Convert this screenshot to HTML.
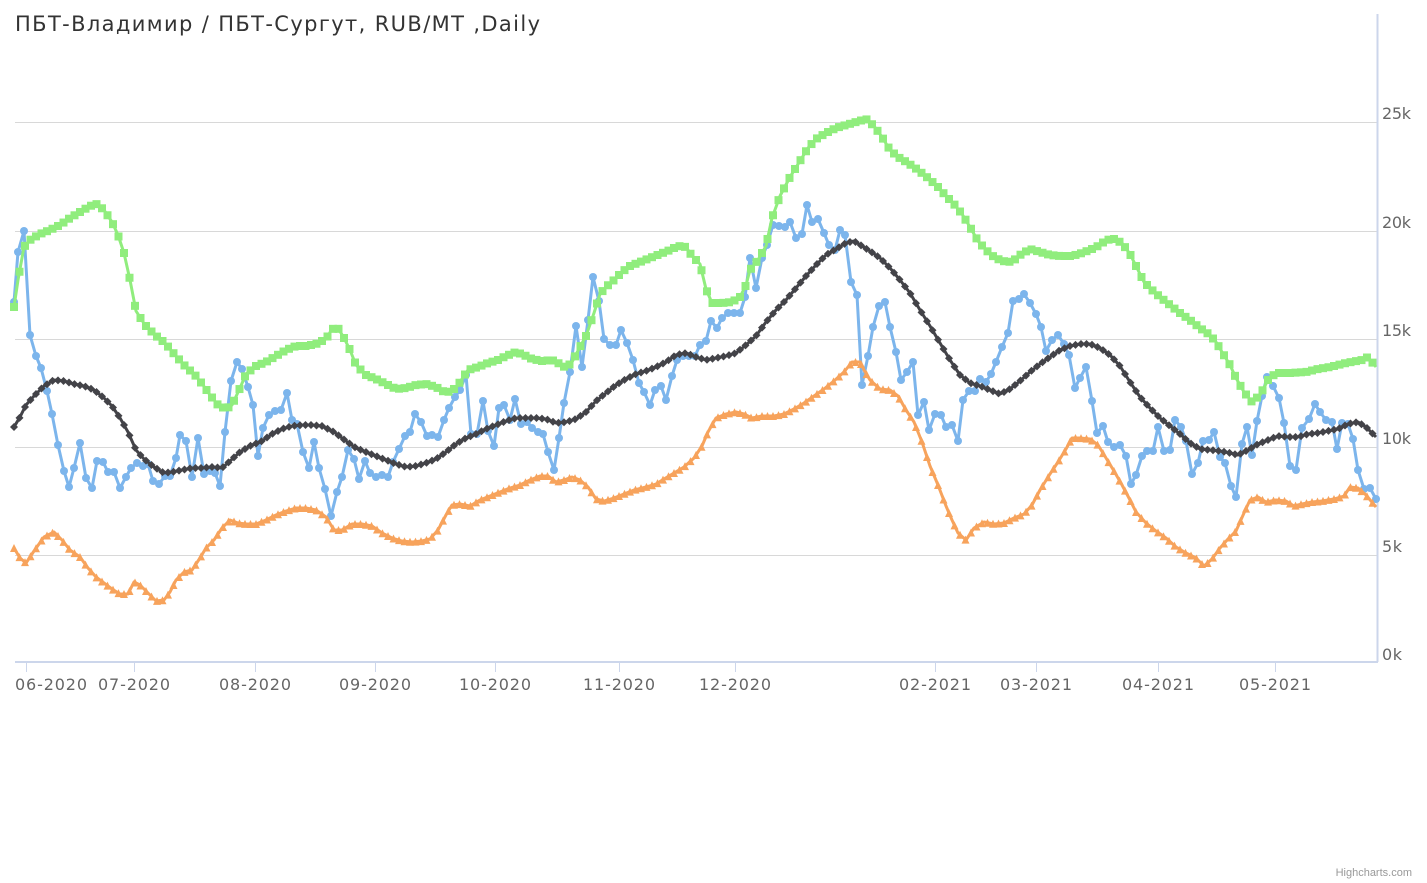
<!DOCTYPE html>
<html><head><meta charset="utf-8"><style>
html,body{margin:0;padding:0;background:#fff;width:1427px;height:883px;overflow:hidden;font-family:"DejaVu Sans","Liberation Sans",sans-serif}
svg{display:block}
</style></head><body>
<svg id="s" width="1427" height="883" xmlns="http://www.w3.org/2000/svg" font-family="DejaVu Sans, Liberation Sans, sans-serif">
<rect width="1427" height="883" fill="#fff"/>
<g stroke="#d8d8d8" stroke-width="1">
<line x1="15" x2="1377" y1="122.5" y2="122.5"/>
<line x1="15" x2="1377" y1="231.5" y2="231.5"/>
<line x1="15" x2="1377" y1="339.5" y2="339.5"/>
<line x1="15" x2="1377" y1="447.5" y2="447.5"/>
<line x1="15" x2="1377" y1="555.5" y2="555.5"/>
</g>
<line x1="15" x2="1378" y1="662" y2="662" stroke="#ccd6eb" stroke-width="2"/>
<line x1="1377.5" x2="1377.5" y1="14" y2="662" stroke="#ccd6eb" stroke-width="2"/>
<g stroke="#ccd6eb" stroke-width="1">
<line x1="26.5" x2="26.5" y1="662" y2="672"/><line x1="134.5" x2="134.5" y1="662" y2="672"/>
<line x1="255.5" x2="255.5" y1="662" y2="672"/><line x1="375.5" x2="375.5" y1="662" y2="672"/>
<line x1="495.5" x2="495.5" y1="662" y2="672"/><line x1="619.5" x2="619.5" y1="662" y2="672"/>
<line x1="735.5" x2="735.5" y1="662" y2="672"/><line x1="935.5" x2="935.5" y1="662" y2="672"/>
<line x1="1036.5" x2="1036.5" y1="662" y2="672"/><line x1="1158.5" x2="1158.5" y1="662" y2="672"/>
<line x1="1275.5" x2="1275.5" y1="662" y2="672"/>
</g>
<g fill="#666" font-size="16" text-anchor="middle">
<text x="51" y="690" textLength="72">06-2020</text><text x="134" y="690" textLength="72">07-2020</text><text x="255" y="690" textLength="72">08-2020</text>
<text x="375" y="690" textLength="72">09-2020</text><text x="495" y="690" textLength="72">10-2020</text><text x="619" y="690" textLength="72">11-2020</text>
<text x="735" y="690" textLength="72">12-2020</text><text x="935" y="690" textLength="72">02-2021</text><text x="1036" y="690" textLength="72">03-2021</text>
<text x="1158" y="690" textLength="72">04-2021</text><text x="1275" y="690" textLength="72">05-2021</text>
</g>
<g fill="#666" font-size="16">
<text x="1382" y="119" textLength="29">25k</text><text x="1382" y="228" textLength="29">20k</text><text x="1382" y="336" textLength="29">15k</text>
<text x="1382" y="444" textLength="29">10k</text><text x="1382" y="552" textLength="20">5k</text><text x="1382" y="660" textLength="20">0k</text>
</g>
<text x="15" y="31" fill="#333" font-size="21" textLength="525">ПБТ-Владимир / ПБТ-Сургут, RUB/MT ,Daily</text>
<text x="1412" y="876" fill="#999" font-size="11" text-anchor="end" font-family="Liberation Sans, sans-serif">Highcharts.com</text>
<g id="series"></g>
</svg>
<script>
function P(s){var a=s.split(/[;\s]+/).filter(Boolean).map(function(t){var p=t.split(',');return [+p[0],+p[1]];});return a;}
var blue=P("14,302;18,252;24,231;30,335;36,356;41,368;47,391;52,414;58,445;64,471;69,487;74,468;80,443;86,478;92,488;97,461;103,462;108,472;114,472;120,488;126,477;131,468;137,463;143,466;148,464;153,481;159,484;165,476;170,476;176,458;180,435;186,441;192,477;198,438;204,474;210,471;215,473;220,486;225,432;231,381;237,362;242,369;248,387;253,405;258,456;263,428;269,415;275,411;281,410;287,393;292,420;297,424;303,452;309,468;314,442;319,468;325,489;331,516;337,492;342,477;348,450;354,459;359,479;365,461;370,473;376,477;382,475;388,477;393,462;399,449;405,436;410,432;415,414;421,422;427,436;432,435;438,437;444,420;449,408;455,397;460,390;466,375;471,434;477,434;483,401;488,431;494,446;499,408;504,405;510,420;515,399;521,424;527,422;532,428;538,432;543,434;548,452;554,470;559,438;564,403;570,372;576,326;582,367;588,320;593,277;599,301;604,339;610,345;616,345;621,330;627,343;633,360;639,383;644,392;650,405;655,390;661,386;666,400;672,376;677,360;683,356;689,356;695,356;700,345;706,341;711,321;717,328;722,318;728,313;734,313;740,313;745,297;750,258;756,288;762,258;767,245;773,225;779,226;785,227;790,222;796,238;802,234;807,205;812,222;818,219;824,233;829,245;835,250;840,230;845,235;851,282;857,295;862,385;868,356;873,327;879,306;885,302;890,327;896,352;901,380;907,372;913,362;918,415;924,402;929,430;935,414;941,415;946,427;952,425;958,441;963,400;969,391;975,391;980,379;986,382;991,374;996,362;1002,347;1008,333;1013,301;1019,299;1024,294;1030,303;1036,314;1041,327;1046,351;1052,340;1058,335;1064,344;1069,355;1075,388;1080,378;1086,367;1092,401;1097,433;1103,426;1108,442;1114,447;1120,445;1126,456;1131,484;1136,475;1142,456;1147,451;1153,451;1158,427;1164,451;1170,450;1175,420;1181,427;1186,441;1192,474;1198,463;1203,441;1209,440;1214,432;1220,457;1225,463;1231,486;1236,497;1242,444;1247,427;1252,455;1257,421;1262,396;1267,377;1273,386;1279,398;1284,423;1290,466;1296,470;1302,428;1309,419;1315,404;1320,412;1326,420;1332,422;1337,449;1342,423;1348,424;1353,439;1358,470;1364,489;1370,488;1376,499");
var green=P("14,307;18,280;24,247;30,240;40,234;50,230;60,225;70,218;80,212;90,206;97,204;104,210;112,222;118,235;124,253;130,280;136,311;145,325;155,335;165,343;175,355;185,366;195,375;203,385;210,395;218,405;226,409;232,405;240,388;246,374;256,366;266,362;276,356;286,350;296,346;306,346;316,344;326,339;332,329;338,328;344,338;350,350;356,365;366,375;376,379;386,384;396,389;406,388;416,385;426,384;436,387;446,393;456,388;462,379;468,370;478,367;488,363;498,360;506,356;516,352;524,355;532,359;542,361;552,360;560,364;566,368;572,362;580,347;586,336;594,313;600,294;606,287;614,280;622,272;630,266;640,262;650,258;660,254;670,250;678,246;686,247;692,256;700,264;706,289;712,303;722,303;732,302;740,297;746,285;750,270;758,260;766,246;772,218;780,196;790,177;800,161;808,148;816,139;826,133;836,128;846,125;856,122;866,119;874,126;882,137;890,150;898,157;908,163;918,170;928,178;938,187;946,196;954,204;962,214;970,227;978,241;986,250;994,257;1002,261;1012,262;1020,255;1030,249;1040,252;1050,255;1060,256;1072,256;1082,253;1092,249;1100,245;1106,240;1114,239;1122,243;1130,254;1136,266;1144,282;1152,290;1160,297;1170,305;1180,313;1190,320;1200,328;1210,335;1216,342;1222,352;1230,365;1236,378;1244,392;1252,402;1260,395;1268,380;1276,373;1290,373;1306,372;1318,369;1330,367;1346,363;1362,360;1368,357;1376,367");
var orange=P("14,548;20,558;26,563;34,551;44,537;54,532;62,540;70,550;80,557;88,568;96,577;104,583;112,589;120,594;128,594;134,582;140,585;148,593;156,601;164,600;170,592;176,580;184,572;192,570;200,558;206,548;214,540;222,528;230,520;238,523;246,524;256,524;266,520;276,515;286,511;296,508;306,508;316,510;326,517;334,530;342,530;352,524;362,524;372,526;382,533;392,538;402,541;412,542;422,541;430,539;438,530;446,515;452,505;460,504;470,506;480,500;490,496;500,492;510,488;520,485;530,480;540,476;548,476;556,482;564,480;572,477;580,480;588,487;596,499;604,501;614,498;624,494;634,490;646,487;656,484;664,479;674,473;684,467;694,458;702,446;708,432;716,418;726,414;736,412;744,414;752,418;762,416;774,416;784,414;794,409;804,403;814,396;824,389;834,381;844,372;852,362;860,362;864,370;870,380;880,389;890,390;898,396;906,410;914,422;922,442;930,466;938,485;946,506;952,520;958,533;966,540;974,528;984,522;994,524;1004,523;1014,518;1024,514;1032,505;1040,490;1050,474;1058,462;1066,449;1072,438;1080,438;1090,439;1098,445;1106,458;1114,471;1122,485;1130,500;1136,512;1146,523;1156,531;1166,538;1176,547;1186,553;1196,558;1204,566;1212,559;1220,548;1228,539;1236,531;1244,513;1250,500;1258,497;1266,502;1276,500;1286,501;1294,506;1302,504;1312,502;1322,501;1334,499;1344,496;1350,487;1358,488;1366,495;1376,507");
var black=P("14,427;20,417;26,405;34,396;44,386;54,380;64,381;74,384;84,386;94,390;104,398;112,406;120,418;128,432;136,450;144,459;154,467;164,473;172,472;182,470;192,468;202,468;212,467;222,468;230,461;240,452;250,446;262,441;272,434;282,429;292,426;302,425;312,425;322,426;334,432;346,441;356,448;366,452;376,456;386,460;396,464;406,467;416,466;426,463;436,459;446,452;456,444;466,438;476,434;486,429;496,425;506,421;516,418;526,418;536,418;546,419;556,423;566,422;576,419;586,412;596,401;606,393;616,385;626,379;636,374;646,371;656,367;666,362;676,355;686,353;696,357;706,360;716,358;726,356;736,353;746,345;756,336;766,322;776,310;786,300;796,288;806,276;816,265;826,255;836,249;846,243;854,241;862,246;870,251;880,258;890,268;900,280;910,293;920,310;930,326;940,343;950,360;960,375;970,383;980,386;990,390;1000,394;1010,389;1020,381;1030,372;1040,364;1050,357;1060,350;1070,346;1080,344;1090,344;1100,348;1110,355;1120,366;1130,382;1140,397;1150,408;1160,418;1170,426;1180,434;1190,443;1200,449;1210,450;1220,451;1230,453;1238,455;1248,450;1258,444;1268,440;1278,436;1288,437;1298,437;1308,434;1318,433;1328,431;1338,429;1348,424;1358,422;1366,427;1376,437");
function resample(a,step){var out=[];for(var x=a[0][0];x<=a[a.length-1][0]+0.01;x+=step){var i=0;while(i<a.length-2&&a[i+1][0]<x)i++;var p=a[i],q=a[i+1];var t=(x-p[0])/(q[0]-p[0]);t=Math.max(0,Math.min(1,t));out.push([x,p[1]+(q[1]-p[1])*t]);}return out;}
var g=document.getElementById('series'),h='';
function line(a,c){h+='<polyline fill="none" stroke="'+c+'" stroke-width="3" stroke-linejoin="round" points="'+a.map(function(p){return p.join(',')}).join(' ')+'"/>';}
function pts(a,c,shape){a.forEach(function(p){var x=p[0].toFixed(1),y=p[1].toFixed(1);
 if(shape=='c')h+='<circle cx="'+x+'" cy="'+y+'" r="4" fill="'+c+'"/>';
 else if(shape=='s')h+='<rect x="'+(p[0]-4)+'" y="'+(p[1]-4)+'" width="8" height="8" fill="'+c+'"/>';
 else if(shape=='t')h+='<path d="M'+p[0]+','+(p[1]-4)+'L'+(p[0]+4)+','+(p[1]+4)+'L'+(p[0]-4)+','+(p[1]+4)+'Z" fill="'+c+'"/>';
 else h+='<path d="M'+p[0]+','+(p[1]-4)+'L'+(p[0]+4)+','+p[1]+'L'+p[0]+','+(p[1]+4)+'L'+(p[0]-4)+','+p[1]+'Z" fill="'+c+'"/>';});}
line(blue,'#7cb5ec');pts(blue,'#7cb5ec','c');
var gr=resample(green,5.5);line(green,'#90ed7d');pts(gr,'#90ed7d','s');
var orr=resample(orange,5.5);line(orange,'#f7a35c');pts(orr,'#f7a35c','t');
var br=resample(black,5.5);line(black,'#434348');pts(br,'#434348','d');
g.innerHTML=h;
</script>
</body></html>
